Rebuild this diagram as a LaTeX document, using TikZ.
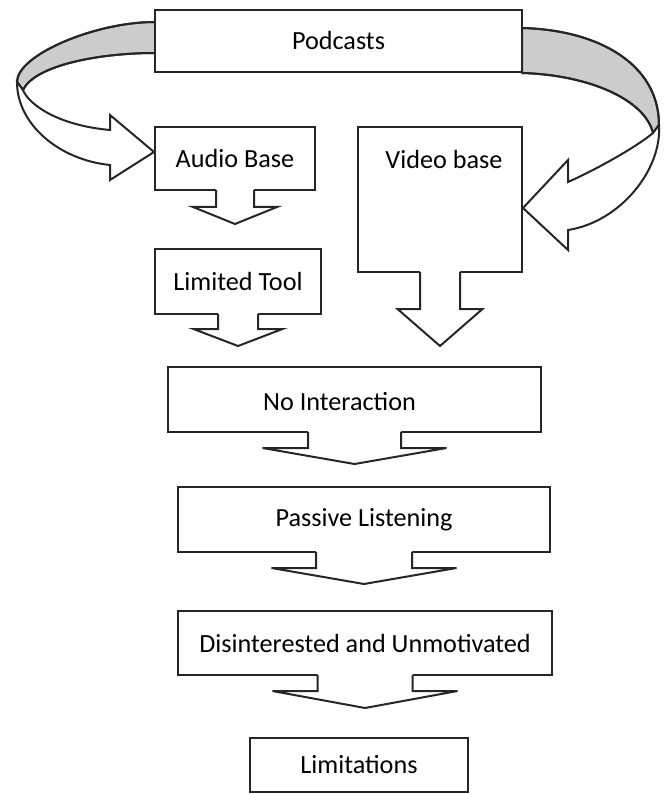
\documentclass[tikz,border=0pt]{standalone}
\usepackage{fontspec}
\setmainfont{Carlito}
\usetikzlibrary{calc}
% #1 node, #2 half stem width, #3 stem length, #4 half head width, #5 head length
\newcommand{\blockarrow}[5]{%
  \fill[white] ($(#1.south)+(-#2,-3)$) -- ($(#1.south)+(-#2,#3)$) -- ($(#1.south)+(-#4,#3)$)
     -- ($(#1.south)+(0,{#3+#5})$) -- ($(#1.south)+(#4,#3)$) -- ($(#1.south)+(#2,#3)$)
     -- ($(#1.south)+(#2,-3)$) -- cycle;
  \draw[arrowline] ($(#1.south)+(-#2,-1)$) -- ($(#1.south)+(-#2,#3)$) -- ($(#1.south)+(-#4,#3)$)
     -- ($(#1.south)+(0,{#3+#5})$) -- ($(#1.south)+(#4,#3)$) -- ($(#1.south)+(#2,#3)$)
     -- ($(#1.south)+(#2,-1)$);
}
\begin{document}
\begin{tikzpicture}[x=1pt,y=-1pt,
  txtfont/.style={font=\fontsize{26.2}{30}\selectfont},
  box/.style={draw=black!85, line width=2pt, fill=white, inner sep=0pt, txtfont},
  lbl/.style={inner sep=0pt, txtfont},
  arrowline/.style={draw=black!85, line width=2pt, line join=miter},
  ribbonback/.style={fill=black!20, draw=black!85, line width=2pt, line join=round},
  ribbonfront/.style={fill=white, draw=black!85, line width=2pt, line join=miter}]
\useasboundingbox (0,0) rectangle (665,794);

% back (grey) parts of the curved arrows
\coordinate (lb1) at (155,22);
\coordinate (lb2) at (155,53);
\coordinate (rb1) at (522,28);
\coordinate (rb2) at (522,73);
\fill[ribbonback] (lb1) .. controls (95,22) and (17,55) .. (17,82) -- (23,90)
   .. controls (35,65) and (100,53) .. (lb2) -- cycle;
\fill[ribbonback] (rb1) .. controls (600,30) and (659,65) .. (659,125) -- (653,133)
   .. controls (645,100) and (590,75) .. (rb2) -- cycle;
\draw[ribbonback, fill=none] (lb1) .. controls (95,22) and (17,55) .. (17,82) -- (23,90)
   .. controls (35,65) and (100,53) .. (lb2);
\draw[ribbonback, fill=none] (rb1) .. controls (600,30) and (659,65) .. (659,125) -- (653,133)
   .. controls (645,100) and (590,75) .. (rb2);

% boxes
\node[box, minimum width=367pt, minimum height=62pt] (podcasts) at (338.5,41) {Podcasts};
\node[box, minimum width=160pt, minimum height=63pt] (audio) at (235,158.5) {Audio Base};
\node[box, minimum width=164pt, minimum height=145pt] (video) at (440,199.5) {};
\node[lbl] (videotxt) at (444,160) {Video base};
\node[box, minimum width=166pt, minimum height=65pt] (limited) at (238,281.5) {Limited Tool};
\node[box, minimum width=373pt, minimum height=65pt] (nointer) at (354.5,399.5) {};
\node[lbl] (nointertxt) at (339.5,402) {No Interaction};
\node[box, minimum width=372pt, minimum height=65pt] (passive) at (364,519.5) {Passive Listening};
\node[box, minimum width=374pt, minimum height=64pt] (disint) at (365,643) {Disinterested and Unmotivated};
\node[box, minimum width=218pt, minimum height=54pt] (limits) at (359,765) {Limitations};

% front (white) parts of the curved arrows
\coordinate (ltip) at ($(audio.west)+(0,-6.5)$);
\coordinate (rtip) at ($(video.east)+(0,8.5)$);
\draw[ribbonfront] (23,90) .. controls (28,103) and (55,125) .. (110,130) -- (110,115) -- (ltip)
   -- (110,180) -- (110,165) .. controls (60,160) and (17,125) .. (17,82) -- cycle;
\draw[ribbonfront] (653,133) .. controls (635,148) and (595,170) .. (568,182) -- (568,160) -- (rtip)
   -- (568,250) -- (568,230) .. controls (620,222) and (662,170) .. (659,125) -- cycle;

% block arrows
\blockarrow{audio}{19}{16}{42}{17}
\blockarrow{limited}{20}{14}{44.5}{17}
\blockarrow{video}{20}{36}{42.5}{37}
\blockarrow{nointer}{46.5}{15}{92}{16}
\blockarrow{passive}{48}{15}{92.5}{16}
\blockarrow{disint}{47.5}{15}{92.5}{17}
\end{tikzpicture}
\end{document}
